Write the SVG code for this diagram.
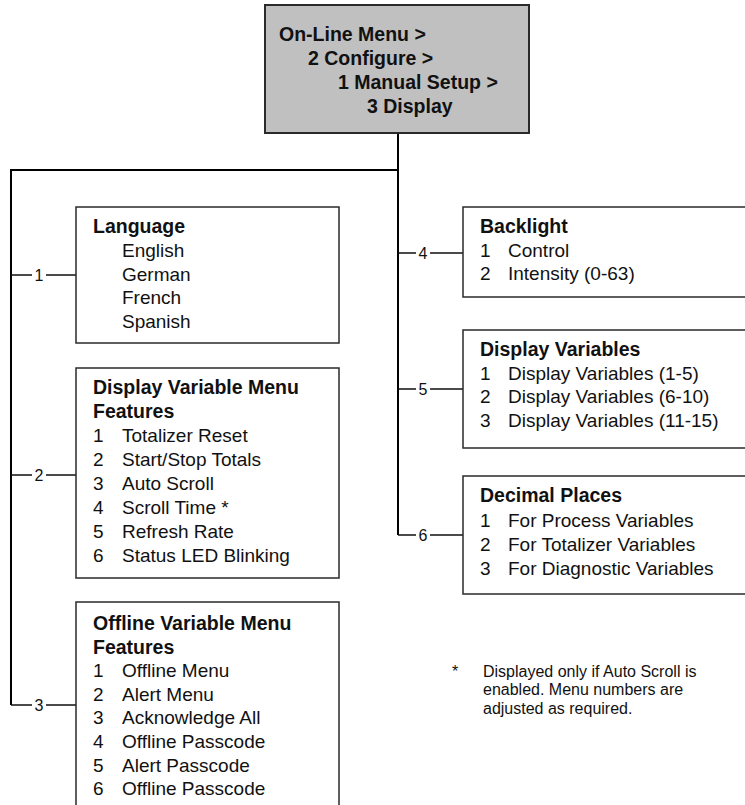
<svg xmlns="http://www.w3.org/2000/svg" width="745" height="805" viewBox="0 0 745 805">
<style>
.box{fill:#fff;stroke:#2a2a2a;stroke-width:1.5}
.top{fill:#c0c0c0;stroke:#2a2a2a;stroke-width:2}
.t{font-family:"Liberation Sans",Arial,sans-serif;font-size:19px;fill:#111}
.b{font-family:"Liberation Sans",Arial,sans-serif;font-size:19.5px;font-weight:bold;fill:#111}
.lbl{font-family:"Liberation Sans",Arial,sans-serif;font-size:16px;fill:#111;text-anchor:middle}
.fn{font-family:"Liberation Sans",Arial,sans-serif;font-size:16px;fill:#111}
.trunk{stroke:#000;stroke-width:2;fill:none}
.br{stroke:#111;stroke-width:1.3;fill:none}
</style>
<rect width="745" height="805" fill="#fff"/>
<g id="connectors">
<path class="trunk" d="M398,133 V535"/>
<path class="trunk" d="M11,170 H398"/>
<path class="trunk" d="M11,169 V705"/>
<path class="br" d="M11,275 H32 M46,275 H76"/>
<path class="br" d="M11,475 H32 M46,475 H76"/>
<path class="br" d="M11,705 H32 M46,705 H76"/>
<path class="br" d="M398,253 H416 M430,253 H463"/>
<path class="br" d="M398,389 H416 M430,389 H463"/>
<path class="br" d="M398,535 H416 M430,535 H463"/>
<text class="lbl" x="39" y="281">1</text>
<text class="lbl" x="39" y="481">2</text>
<text class="lbl" x="39" y="711">3</text>
<text class="lbl" x="423" y="259">4</text>
<text class="lbl" x="423" y="395">5</text>
<text class="lbl" x="423" y="541">6</text>
</g>
<g id="root">
<rect class="top" x="265" y="5" width="264" height="128"/>
<text class="b" x="279" y="41">On-Line Menu &gt;</text>
<text class="b" x="308" y="65">2 Configure &gt;</text>
<text class="b" x="338" y="89">1 Manual Setup &gt;</text>
<text class="b" x="367" y="113">3 Display</text>
</g>
<g id="language">
<rect class="box" x="76" y="207" width="263" height="136"/>
<text class="b" x="93" y="233">Language</text>
<text class="t" x="122" y="257">English</text>
<text class="t" x="122" y="281">German</text>
<text class="t" x="122" y="304">French</text>
<text class="t" x="122" y="328">Spanish</text>
</g>
<g id="display-variable-menu">
<rect class="box" x="76" y="368" width="263" height="210"/>
<text class="b" x="93" y="394">Display Variable Menu</text>
<text class="b" x="93" y="418">Features</text>
<text class="t" x="93" y="442">1</text><text class="t" x="122" y="442">Totalizer Reset</text>
<text class="t" x="93" y="466">2</text><text class="t" x="122" y="466">Start/Stop Totals</text>
<text class="t" x="93" y="490">3</text><text class="t" x="122" y="490">Auto Scroll</text>
<text class="t" x="93" y="514">4</text><text class="t" x="122" y="514">Scroll Time *</text>
<text class="t" x="93" y="538">5</text><text class="t" x="122" y="538">Refresh Rate</text>
<text class="t" x="93" y="562">6</text><text class="t" x="122" y="562">Status LED Blinking</text>
</g>
<g id="offline-variable-menu">
<rect class="box" x="76" y="602" width="263" height="230"/>
<text class="b" x="93" y="630">Offline Variable Menu</text>
<text class="b" x="93" y="654">Features</text>
<text class="t" x="93" y="677">1</text><text class="t" x="122" y="677">Offline Menu</text>
<text class="t" x="93" y="701">2</text><text class="t" x="122" y="701">Alert Menu</text>
<text class="t" x="93" y="724">3</text><text class="t" x="122" y="724">Acknowledge All</text>
<text class="t" x="93" y="748">4</text><text class="t" x="122" y="748">Offline Passcode</text>
<text class="t" x="93" y="772">5</text><text class="t" x="122" y="772">Alert Passcode</text>
<text class="t" x="93" y="795">6</text><text class="t" x="122" y="795">Offline Passcode</text>
</g>
<g id="backlight">
<rect class="box" x="463" y="207" width="295" height="90"/>
<text class="b" x="480" y="233">Backlight</text>
<text class="t" x="480" y="257">1</text><text class="t" x="508" y="257">Control</text>
<text class="t" x="480" y="280">2</text><text class="t" x="508" y="280">Intensity (0-63)</text>
</g>
<g id="display-variables">
<rect class="box" x="463" y="330" width="295" height="118"/>
<text class="b" x="480" y="356">Display Variables</text>
<text class="t" x="480" y="380">1</text><text class="t" x="508" y="380">Display Variables (1-5)</text>
<text class="t" x="480" y="403">2</text><text class="t" x="508" y="403">Display Variables (6-10)</text>
<text class="t" x="480" y="427">3</text><text class="t" x="508" y="427">Display Variables (11-15)</text>
</g>
<g id="decimal-places">
<rect class="box" x="463" y="476" width="295" height="118"/>
<text class="b" x="480" y="502">Decimal Places</text>
<text class="t" x="480" y="527">1</text><text class="t" x="508" y="527">For Process Variables</text>
<text class="t" x="480" y="551">2</text><text class="t" x="508" y="551">For Totalizer Variables</text>
<text class="t" x="480" y="575">3</text><text class="t" x="508" y="575">For Diagnostic Variables</text>
</g>
<g id="footnote">
<text class="fn" x="452" y="677">*</text>
<text class="fn" x="483" y="677">Displayed only if Auto Scroll is</text>
<text class="fn" x="483" y="695">enabled. Menu numbers are</text>
<text class="fn" x="483" y="714">adjusted as required.</text>
</g>
</svg>
